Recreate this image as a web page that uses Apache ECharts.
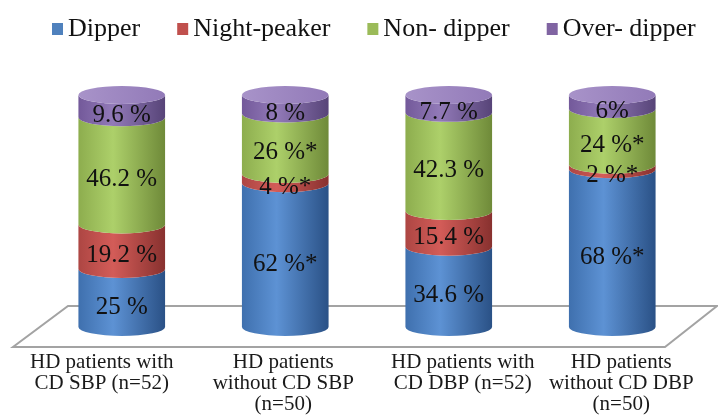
<!DOCTYPE html>
<html>
<head>
<meta charset="utf-8">
<script src="https://cdn.jsdelivr.net/npm/echarts@6/dist/echarts.min.js"></script>
<style>
  html, body { margin: 0; padding: 0; background: #ffffff; }
  #chart { width: 718px; height: 417px; }
</style>
</head>
<body>
<div id="chart"></div>
<script>
// Groups of haemodialysis patients
var categories = [
  'HD patients with\nCD SBP (n=52)',
  'HD patients\nwithout CD SBP\n(n=50)',
  'HD patients with\nCD DBP (n=52)',
  'HD patients\nwithout CD DBP\n(n=50)'
];

// Percentage of each blood-pressure pattern per group
var dipper      = [25, 62, 34.6, 68];
var nightPeaker = [19.2, 4, 15.4, 2];
var nonDipper   = [46.2, 26, 42.3, 24];
var overDipper  = [9.6, 8, 7.7, 6];

// Text shown on each segment
var dipperLabels      = ['25 %', '62 %*', '34.6 %', '68 %*'];
var nightPeakerLabels = ['19.2 %', '4 %*', '15.4 %', '2 %*'];
var nonDipperLabels   = ['46.2 %', '26 %*', '42.3 %', '24 %*'];
var overDipperLabels  = ['9.6 %', '8 %', '7.7 %', '6%'];

// Horizontal nudge of each category caption along the slanted floor edge (px)
var captionShift = [-20, -2, 14, 9];

var seriesNames = ['Dipper', 'Night-peaker', 'Non- dipper', 'Over- dipper'];
var seriesValues = [dipper, nightPeaker, nonDipper, overDipper];
var seriesLabels = [dipperLabels, nightPeakerLabels, nonDipperLabels, overDipperLabels];

var baseColors = ['#4F81BD', '#C0504D', '#9BBB59', '#8064A2'];
// left edge, highlight, right edge shading of the cylinder body
var shades = [
  ['#3f70ae', '#5d92d4', '#2a5186'],
  ['#ad4643', '#d35c58', '#88312f'],
  ['#8dad4e', '#add06a', '#6f8a39'],
  ['#73599a', '#927ab8', '#574478']
];
var capColors = ['#7ea6da', '#e08a87', '#c2dc8e', '#a893c9'];

var FONT = 'Liberation Serif';
var BAR_RATIO = 0.53;
var RY = 9;

function cylinderSegment(seriesIndex) {
  var isTop = seriesIndex === seriesValues.length - 1;
  return function (params, api) {
    var idx = api.value(0);
    var start = api.value(1);
    var end = api.value(2);
    var pBottom = api.coord([idx, start]);
    var pTop = api.coord([idx, end]);
    var pMid = api.coord([idx, (start + end) / 2]);
    var cx = pBottom[0];
    var rx = api.size([1, 0])[0] * BAR_RATIO / 2;
    var yb = pBottom[1];
    var yt = pTop[1];
    var l = cx - rx, r = cx + rx;
    var body =
      'M' + l + ' ' + yt +
      'L' + l + ' ' + yb +
      'A' + rx + ' ' + RY + ' 0 0 0 ' + r + ' ' + yb +
      'L' + r + ' ' + yt +
      'A' + rx + ' ' + RY + ' 0 0 1 ' + l + ' ' + yt + 'Z';
    var sh = shades[seriesIndex];
    var children = [{
      type: 'path',
      shape: { pathData: body },
      style: {
        fill: new echarts.graphic.LinearGradient(0, 0, 1, 0, [
          { offset: 0, color: sh[0] },
          { offset: 0.4, color: sh[1] },
          { offset: 1, color: sh[2] }
        ])
      }
    }];
    if (isTop) {
      var cap =
        'M' + l + ' ' + yt +
        'A' + rx + ' ' + RY + ' 0 0 0 ' + r + ' ' + yt +
        'A' + rx + ' ' + RY + ' 0 0 0 ' + l + ' ' + yt + 'Z';
      children.push({
        type: 'path',
        shape: { pathData: cap },
        style: {
          fill: new echarts.graphic.LinearGradient(0, 0, 1, 0, [
            { offset: 0, color: capColors[seriesIndex] },
            { offset: 1, color: sh[1] }
          ])
        }
      });
    }
    children.push({
      type: 'text',
      x: cx,
      y: pMid[1] + 9,
      z2: 10,
      style: {
        text: seriesLabels[seriesIndex][params.dataIndex],
        fill: '#111111',
        font: '25px "' + FONT + '"',
        align: 'center',
        verticalAlign: 'middle'
      }
    });
    return { type: 'group', children: children };
  };
}

var series = [];
var running = categories.map(function () { return 0; });
seriesValues.forEach(function (vals, si) {
  var data = vals.map(function (v, i) {
    var item = [i, running[i], running[i] + v];
    running[i] += v;
    return item;
  });
  series.push({
    type: 'custom',
    name: seriesNames[si],
    z: 5,
    itemStyle: { color: baseColors[si] },
    encode: { x: 0, y: [1, 2] },
    renderItem: cylinderSegment(si),
    data: data
  });
});

// one rich style per caption, padded so that its centre moves by captionShift
var captionRich = {};
captionShift.forEach(function (dx, i) {
  captionRich['c' + i] = {
    fontFamily: FONT,
    fontSize: 21,
    lineHeight: 21,
    color: '#1a1a1a',
    padding: [0, dx < 0 ? -2 * dx : 0, 0, dx > 0 ? 2 * dx : 0]
  };
});

var chart = echarts.init(document.getElementById('chart'), null, { renderer: 'canvas' });
chart.setOption({
  backgroundColor: '#ffffff',
  animation: false,
  legend: {
    data: seriesNames,
    left: 52,
    top: 16,
    padding: 0,
    itemWidth: 11,
    itemHeight: 12,
    itemGap: 37,
    icon: 'rect',
    textStyle: { fontFamily: FONT, fontSize: 26, color: '#111111' }
  },
  grid: { left: 40, right: 24, top: 95, bottom: 90 },
  xAxis: {
    type: 'category',
    data: categories,
    axisLine: { show: false },
    axisTick: { show: false },
    axisLabel: {
      margin: 25,
      fontFamily: FONT,
      fontSize: 21,
      lineHeight: 21,
      color: '#1a1a1a',
      interval: 0,
      formatter: function (value, index) {
        return value.split('\n').map(function (line) {
          return '{c' + index + '|' + line + '}';
        }).join('\n');
      },
      rich: captionRich
    }
  },
  yAxis: {
    type: 'value',
    min: 0,
    max: 100,
    show: false
  },
  graphic: [{
    type: 'polygon',
    z: 0,
    shape: { points: [[68, 306], [717, 306], [665, 347], [13, 347]] },
    style: { fill: '#ffffff', stroke: '#a3a3a3', lineWidth: 2 }
  }],
  series: series
});
</script>
</body>
</html>
